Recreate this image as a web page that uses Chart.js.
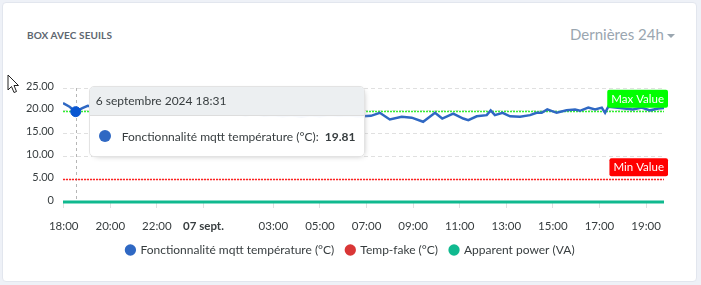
<!DOCTYPE html>
<html>
<head>
<meta charset="utf-8">
<script src="https://cdn.jsdelivr.net/npm/chart.js@4.4.1/dist/chart.umd.min.js"></script>
<style>
  html, body { margin: 0; padding: 0; }
  body { width: 701px; height: 285px; overflow: hidden; position: relative; background: #eef1f7; font-family: Lato, "Open Sans", sans-serif; }
  .card { position: absolute; left: 2px; top: 2px; width: 695px; height: 280px; box-sizing: border-box; background: #fff; border: 1px solid #e2e6ee; border-radius: 4px; }
  .title { position: absolute; left: 27px; top: 29px; font-size: 10px; font-weight: 700; color: #5d6670; letter-spacing: 0.1px; }
  .range { position: absolute; left: 570px; top: 25px; font-size: 15px; color: #9aa6b0; }
  .caret { display: inline-block; margin-left: 3px; vertical-align: middle; border-left: 4px solid transparent; border-right: 4px solid transparent; border-top: 4px solid #9aa6b0; }
  #wrap { position: absolute; left: 0; top: 0; width: 701px; height: 285px; }
  #tip { position: absolute; display: none; background: rgba(255,255,255,0.96); border: 1px solid #e3e3e3; border-radius: 5px; box-shadow: 2px 2px 6px -4px #999; font-size: 12px; color: #373d3f; overflow: hidden; white-space: nowrap; }
  #tip .tip-title { background: #eceff1; border-bottom: 1px solid #ddd; padding: 0 6px; height: 28px; line-height: 28px; }
  #tip .tip-body { display: flex; align-items: center; height: 40px; padding: 0 8px 0 9px; }
  #tip .tip-dot { width: 12px; height: 12px; border-radius: 50%; margin-right: 11px; }
  #tip .tip-val { font-weight: 700; }
  .cursor { position: absolute; left: 7px; top: 74px; }
</style>
</head>
<body>
<div class="card"></div>
<div class="title">BOX AVEC SEUILS</div>
<div class="range">Dernières 24h<span class="caret"></span></div>
<div id="wrap"><canvas id="myChart" width="701" height="285"></canvas></div>
<div id="tip">
  <div class="tip-title"></div>
  <div class="tip-body"><span class="tip-dot"></span><span class="tip-name"></span><span class="tip-val"></span></div>
</div>
<svg class="cursor" width="14" height="20" viewBox="0 0 14 20"><path d="M1 1 L1 16 L4.5 12.5 L7 18.5 L9.5 17.5 L7 11.5 L11.5 11.5 Z" fill="#fff" stroke="#222" stroke-width="1"/></svg>
<script>
// hours counted from 6 sept. 2024 18:00
var tempHours = [-0.03, 0.25, 0.5167, 0.8, 1.03, 1.4, 1.8, 2.2, 2.6, 3.0, 3.4, 3.8, 4.2, 4.6, 5.0, 5.4, 5.8, 6.2, 6.6, 7.0,
  7.4, 7.8, 8.2, 8.6, 9.0, 9.4, 9.8, 10.2, 10.6, 11.0, 11.4, 11.8, 12.2, 12.6, 12.86, 13.19, 13.57, 14.0, 14.51, 14.94,
  15.43, 15.94, 16.25, 16.72, 17.15, 17.37, 17.73, 18.16, 18.33, 18.51, 18.84, 19.16, 19.59, 20.02, 20.3, 20.52, 20.76,
  21.16, 21.59, 21.95, 22.16, 22.52, 22.81, 23.1, 23.24, 23.38, 23.88, 24.44, 24.81, 25.17, 25.53, 25.77];
var tempValues = [21.7, 20.9, 19.81, 20.6, 21.1, 20.7, 20.9, 20.4, 20.6, 20.1, 20.3, 19.9, 20.0, 19.6, 19.8, 19.5, 19.7, 19.3, 19.5, 19.2,
  19.4, 19.0, 19.3, 18.9, 19.1, 18.8, 19.0, 18.7, 19.0, 18.8, 19.1, 18.9, 19.0, 18.8, 18.8, 18.9, 19.56, 18.1, 18.7, 18.5,
  17.6, 19.56, 18.3, 19.4, 18.3, 17.96, 18.8, 19.05, 20.1, 19.05, 19.56, 18.8, 18.7, 19.05, 19.56, 19.56, 20.3,
  19.56, 20.1, 20.3, 20.0, 20.7, 20.3, 20.7, 19.56, 20.9, 20.6, 20.3, 20.7, 20.1, 20.5, 20.6];
var fakeHours = [];
var fakeValues = [];
var powerHours = [-0.03, 25.77];
var powerValues = [0, 0];

var tickHours = [0, 2, 4, 6, 9, 11, 13, 15, 17, 19, 21, 23, 25];
var tickLabels = ['18:00', '20:00', '22:00', '07 sept.', '03:00', '05:00', '07:00', '09:00', '11:00', '13:00', '15:00', '17:00', '19:00'];

var thresholdValues = [20, 5];
var thresholdLabels = ['Max Value', 'Min Value'];

var hoverIndex = 2;

function toPoints(xs, ys) {
  return xs.map(function (x, i) { return {x: x, y: ys[i]}; });
}

function formatDate(h) {
  var total = 18 * 60 + Math.round(h * 60);
  var day = 6 + Math.floor(total / 1440);
  var m = total % 1440;
  var hh = String(Math.floor(m / 60)).padStart(2, '0');
  var mm = String(m % 60).padStart(2, '0');
  return day + ' septembre 2024 ' + hh + ':' + mm;
}

Chart.defaults.font.family = 'Lato, "Open Sans", sans-serif';
Chart.defaults.color = '#373d3f';

var lineColors = ['#2f68c3', '#d93636', '#10b98f'];
var thresholdColors = ['#00ff00', '#ff0000'];
var thresholdLineColors = ['#33ee33', '#ff2222'];

function externalTooltip(context) {
  var chart = context.chart, tooltip = context.tooltip;
  var el = document.getElementById('tip');
  if (tooltip.opacity === 0 || !tooltip.dataPoints || !tooltip.dataPoints.length) { el.style.display = 'none'; return; }
  var dp = tooltip.dataPoints[0];
  el.querySelector('.tip-title').textContent = tooltip.title[0];
  el.querySelector('.tip-name').textContent = dp.dataset.label + ':\u00a0\u00a0';
  el.querySelector('.tip-val').textContent = dp.parsed.y.toFixed(2);
  el.querySelector('.tip-dot').style.background = dp.dataset.borderColor;
  el.style.display = 'block';
  el.style.left = (tooltip.caretX + 13) + 'px';
  el.style.top = (chart.chartArea.top - 2) + 'px';
}

// dashed vertical line at hovered point
var crosshair = {
  id: 'crosshair',
  beforeDatasetsDraw: function (chart) {
    var act = chart.tooltip.getActiveElements();
    if (!act.length) return;
    var x = Math.round(act[0].element.x) + 0.5;
    var ctx = chart.ctx, a = chart.chartArea;
    ctx.save();
    ctx.strokeStyle = '#b6b6b6';
    ctx.lineWidth = 1;
    ctx.setLineDash([3, 3]);
    ctx.beginPath();
    ctx.moveTo(x, a.top);
    ctx.lineTo(x, a.bottom);
    ctx.stroke();
    ctx.restore();
  }
};

// threshold lines (dotted) + labels
var thresholds = {
  id: 'thresholds',
  beforeDatasetsDraw: function (chart) {
    var ctx = chart.ctx, a = chart.chartArea, y = chart.scales.y;
    ctx.save();
    ctx.lineWidth = 1.3;
    ctx.setLineDash([2, 1]);
    thresholdValues.forEach(function (v, i) {
      var py = Math.round(y.getPixelForValue(v)) + 0.5;
      ctx.strokeStyle = thresholdLineColors[i];
      ctx.beginPath();
      ctx.moveTo(a.left, py);
      ctx.lineTo(a.right, py);
      ctx.stroke();
    });
    ctx.restore();
  },
  afterDatasetsDraw: function (chart) {
    var ctx = chart.ctx, a = chart.chartArea, y = chart.scales.y;
    ctx.save();
    ctx.font = '11.5px Lato, "Open Sans", sans-serif';
    ctx.textBaseline = 'middle';
    ctx.textAlign = 'center';
    thresholdValues.forEach(function (v, i) {
      var py = y.getPixelForValue(v);
      var w = ctx.measureText(thresholdLabels[i]).width + 8;
      var h = 18;
      var right = a.right + 4;
      var top = py - 3 - h;
      ctx.fillStyle = thresholdColors[i];
      ctx.beginPath();
      ctx.roundRect(right - w, top, w, h, 2);
      ctx.fill();
      ctx.fillStyle = '#fff';
      ctx.fillText(thresholdLabels[i], right - w / 2, top + h / 2 + 0.5);
    });
    ctx.restore();
  }
};

var ctx = document.getElementById('myChart');
var chart = new Chart(ctx, {
  type: 'line',
  data: {
    datasets: [{
      label: 'Fonctionnalité mqtt température (°C)',
      data: toPoints(tempHours, tempValues),
      borderColor: lineColors[0],
      backgroundColor: lineColors[0],
      borderWidth: 2.5,
      pointRadius: 0,
      pointHoverRadius: 5,
      pointHoverBorderWidth: 1,
      tension: 0
    }, {
      label: 'Temp-fake (°C)',
      data: toPoints(fakeHours, fakeValues),
      borderColor: lineColors[1],
      backgroundColor: lineColors[1],
      borderWidth: 2,
      pointRadius: 0
    }, {
      label: 'Apparent power (VA)',
      data: toPoints(powerHours, powerValues),
      borderColor: lineColors[2],
      backgroundColor: lineColors[2],
      borderWidth: 3,
      pointRadius: 0,
      clip: 4
    }]
  },
  options: {
    responsive: false,
    animation: false,
    events: [],
    layout: { padding: { top: 88, right: 0, bottom: 19, left: 0 } },
    scales: {
      x: {
        type: 'linear',
        min: -0.03,
        max: 25.77,
        afterBuildTicks: function (scale) {
          scale.ticks = tickHours.map(function (v) { return {value: v}; });
        },
        afterFit: function (scale) { scale.height = 30; },
        ticks: {
          autoSkip: false,
          maxRotation: 0,
          minRotation: 0,
          padding: 11,
          font: function (c) {
            return {size: 11.5, weight: (c.tick && c.tick.value === 6) ? 'bold' : 'normal'};
          },
          callback: function (v) { return tickLabels[tickHours.indexOf(v)]; }
        },
        grid: { drawOnChartArea: false, drawTicks: true, tickLength: 6, color: '#e0e0e0' },
        border: { display: false }
      },
      y: {
        min: 0,
        max: 25,
        afterFit: function (scale) { scale.width = 63; },
        ticks: {
          stepSize: 5,
          padding: 9,
          labelOffset: -2,
          font: { size: 11 },
          callback: function (v) { return v === 0 ? '0' : v.toFixed(2); }
        },
        grid: { color: '#e0e0e0', drawTicks: false },
        border: { display: false, dash: [4, 3] }
      },
      // empty right-hand axis, only keeps the right margin
      yRight: {
        type: 'linear',
        position: 'right',
        afterFit: function (scale) { scale.width = 37; },
        ticks: { display: false },
        grid: { display: false },
        border: { display: false }
      }
    },
    plugins: {
      legend: {
        position: 'bottom',
        labels: {
          usePointStyle: true,
          pointStyle: 'circle',
          boxWidth: 8,
          boxHeight: 8,
          padding: 12,
          font: { size: 12 },
          color: '#373d3f',
          generateLabels: function (c) {
            return Chart.defaults.plugins.legend.labels.generateLabels(c).map(function (l) {
              l.lineWidth = 0;
              return l;
            });
          }
        }
      },
      tooltip: {
        enabled: false,
        external: externalTooltip,
        callbacks: {
          title: function (items) { return formatDate(items[0].parsed.x); }
        }
      }
    }
  },
  plugins: [crosshair, thresholds]
});

chart.setActiveElements([{datasetIndex: 0, index: hoverIndex}]);
chart.tooltip.setActiveElements([{datasetIndex: 0, index: hoverIndex}], {x: 0, y: 0});
chart.update();
</script>
</body>
</html>
